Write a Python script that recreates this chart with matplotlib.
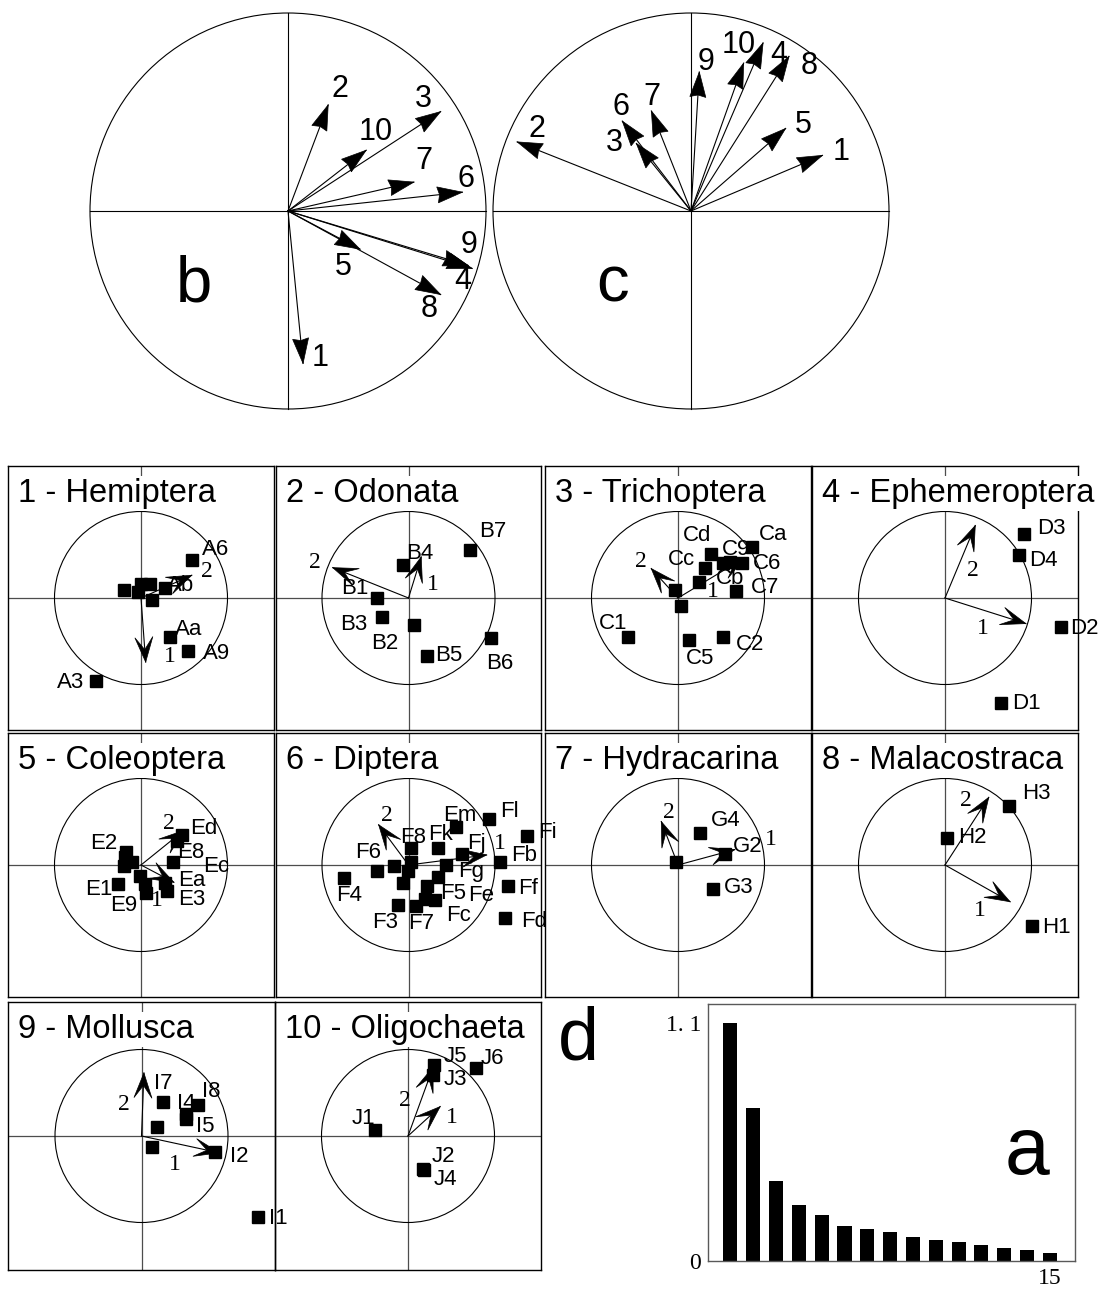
import numpy as np
import matplotlib
matplotlib.use('Agg')
import matplotlib.pyplot as plt
from matplotlib.patches import Circle, Polygon

SANS = 'Liberation Sans'
SERIF = 'Liberation Serif'
W, H = 1101, 1292

# ---- b and c : correlation circles of the 10 groups (unit circle)
groups = ['1', '2', '3', '4', '5', '6', '7', '8', '9', '10']
b_x = [0.076, 0.203, 0.771, 0.91, 0.364, 0.881, 0.636, 0.771, 0.93, 0.395]
b_y = [-0.77, 0.536, 0.502, -0.275, -0.193, 0.095, 0.146, -0.422, -0.29, 0.307]
c_x = [0.664, -0.878, -0.276, 0.364, 0.478, -0.347, -0.2, 0.495, 0.042, 0.266]
c_y = [0.281, 0.349, 0.341, 0.849, 0.417, 0.454, 0.505, 0.781, 0.702, 0.747]

# ---- a : eigenvalues
eig = [1.1, 0.705, 0.37, 0.259, 0.211, 0.161, 0.147, 0.136, 0.112, 0.099,
       0.087, 0.074, 0.062, 0.05, 0.037]

# ---- d : one panel per group (species scores + the two axes)
hem_names = ['A6', 'Ab', 'Aa', 'A9', 'A3', '', '', '', '', '']
hem_x = [0.587, 0.278, 0.336, 0.548, -0.525, -0.193, 0.0, 0.104, -0.031, 0.124]
hem_y = [0.436, 0.12, -0.452, -0.618, -0.954, 0.097, 0.158, 0.158, 0.069, -0.027]
hem_axx, hem_axy = [0.054, 0.587], [-0.741, 0.263]

odo_names = ['B4', 'B7', 'B1', 'B3', 'B2', 'B5', 'B6']
odo_x = [-0.066, 0.714, -0.367, -0.309, 0.062, 0.212, 0.957]
odo_y = [0.378, 0.56, 0.004, -0.22, -0.309, -0.672, -0.459]
odo_axx, odo_axy = [0.147, -0.876], [0.475, 0.351]

tri_names = ['Cd', 'Cc', 'C9', 'Ca', 'C6', 'Cb', 'C7', 'C1', 'C5', 'C2', '', '', '']
tri_x = [0.378, 0.309, 0.521, 0.861, 0.745, 0.598, 0.676, -0.579, 0.124, 0.525, 0.243, -0.031, 0.031]
tri_y = [0.506, 0.347, 0.405, 0.591, 0.405, 0.417, 0.077, -0.452, -0.49, -0.452, 0.185, 0.089, -0.093]
tri_axx, tri_axy = [0.772, -0.309], [0.467, 0.34]

eph_names = ['D3', 'D4', 'D2', 'D1']
eph_x = [0.908, 0.858, 1.338, 0.646]
eph_y = [0.742, 0.492, -0.335, -1.219]
eph_axx, eph_axy = [0.935, 0.35], [-0.296, 0.838]

col_names = ['Ed', 'E8', 'Ec', 'Ea', 'E3', 'E9', 'E1', 'E2', '', '', '', '', '']
col_x = [0.477, 0.419, 0.372, 0.283, 0.295, 0.058, -0.267, -0.174, -0.182, -0.105, -0.2, -0.016, 0.05]
col_y = [0.349, 0.283, 0.031, -0.209, -0.306, -0.318, -0.221, 0.155, 0.089, 0.039, -0.008, -0.124, -0.221]
col_axx, col_axy = [0.38, 0.496], [-0.2, 0.4]

dip_names = ['Fl', 'Fi', 'Em', 'Fk', 'F8', 'Fj', 'Fb', 'Fg', 'F6', 'F4', 'F3', 'F7',
             'Fc', 'F5', 'Fe', 'Ff', 'Fd', '', '', '', '', '']
dip_x = [0.934, 1.368, 0.554, 0.341, 0.031, 0.624, 1.058, 0.43, -0.368, -0.744, -0.124, 0.089,
         0.31, 0.213, 0.341, 1.151, 1.116, -0.163, 0.031, -0.008, -0.066, 0.186]
dip_y = [0.535, 0.341, 0.434, 0.194, 0.194, 0.128, 0.031, 0.0, -0.066, -0.151, -0.461, -0.473,
         -0.403, -0.24, -0.143, -0.24, -0.616, -0.016, 0.031, -0.066, -0.209, -0.395]
dip_axx, dip_axy = [0.903, -0.345], [0.116, 0.465]

hyd_names = ['G4', 'G2', 'G3', '']
hyd_x = [0.251, 0.54, 0.405, -0.027]
hyd_y = [0.371, 0.127, -0.278, 0.031]
hyd_axx, hyd_axy = [0.656, -0.193], [0.178, 0.502]

mal_names = ['H3', 'H2', 'H1']
mal_x = [0.737, 0.023, 1.004]
mal_y = [0.687, 0.309, -0.703]
mal_axx, mal_axy = [0.753, 0.506], [-0.425, 0.782]

mol_names = ['I7', 'I8', 'I4', 'I5', 'I2', 'I1', '', '']
mol_x = [0.243, 0.648, 0.518, 0.514, 0.85, 1.344, 0.178, 0.117]
mol_y = [0.393, 0.36, 0.25, 0.202, -0.182, -0.935, 0.101, -0.126]
mol_axx, mol_axy = [0.899, 0.028], [-0.194, 0.729]

oli_names = ['J5', 'J3', 'J6', 'J1', 'J2', 'J4']
oli_x = [0.3, 0.291, 0.789, -0.377, 0.178, 0.182]
oli_y = [0.826, 0.704, 0.785, 0.069, -0.385, -0.392]
oli_axx, oli_axy = [0.372, 0.291], [0.34, 0.798]

titles = ['1 - Hemiptera', '2 - Odonata', '3 - Trichoptera', '4 - Ephemeroptera',
          '5 - Coleoptera', '6 - Diptera', '7 - Hydracarina', '8 - Malacostraca',
          '9 - Mollusca', '10 - Oligochaeta']

# label placement (pixel offsets from the point)
b_off = {'1': (17, 5), '2': (12, 16), '3': (-17, 13), '4': (-5, -16), '5': (-17, -18),
         '6': (4, 13), '7': (10, 21), '8': (-12, -14), '9': (-3, 23), '10': (9, 18)}
c_off = {'1': (19, 3), '2': (20, 13), '3': (-22, 0), '4': (16, -12), '5': (18, 3),
         '6': (-1, 14), '7': (0, 14), '8': (20, -10), '9': (7, 10), '10': (-5, 18)}
pt_off = {'A6': (24, 11), 'Ab': (16, 2), 'Aa': (19, 8), 'A9': (28, -2), 'A3': (-25, -2),
          'B4': (17, 12), 'B7': (22, 18), 'B1': (-22, 9), 'B3': (-28, -7), 'B2': (-29, -19),
          'B5': (22, 1), 'B6': (8, -26),
          'Cd': (-14, 19), 'Cc': (-23, 8), 'C9': (13, 13), 'Ca': (21, 12), 'C6': (25, -1),
          'Cb': (0, -17), 'C7': (29, 4), 'C1': (-15, 14), 'C5': (11, -18), 'C2': (27, -7),
          'D3': (28, 5), 'D4': (24, -5), 'D2': (24, -2), 'D1': (26, 0),
          'Ed': (21, 6), 'E8': (14, -12), 'Ec': (43, -4), 'Ea': (26, 3), 'E3': (25, -8),
          'E9': (-22, -13), 'E1': (-19, -5), 'E2': (-22, 8),
          'Fl': (20, 7), 'Fi': (21, 3), 'Em': (3, 12), 'Fk': (3, 14), 'F8': (2, 11),
          'Fj': (14, 10), 'Fb': (24, 7), 'Fg': (25, -6), 'F6': (-9, 18), 'F4': (5, -17),
          'F3': (-13, -18), 'F7': (5, -18), 'Fc': (23, -16), 'F5': (26, -8), 'Fe': (43, -18),
          'Ff': (20, -3), 'Fd': (29, -3),
          'G4': (26, 12), 'G2': (23, 8), 'G3': (26, 2),
          'H3': (28, 12), 'H2': (25, 1), 'H1': (25, -2),
          'I7': (1, 19), 'I8': (14, 13), 'I4': (0, 11), 'I5': (19, -8), 'I2': (24, -5), 'I1': (21, -2),
          'J5': (21, 8), 'J3': (22, -4), 'J6': (16, 10), 'J1': (-12, 12), 'J2': (20, 13), 'J4': (22, -10)}
ax_off = [[(24, 6), (15, 4)], [(12, -28), (-18, 5)], [(-32, -34), (-10, 7)], [(-43, -5), (-2, -45)],
          [(-17, -18), (-15, 7)], [(13, 11), (8, 9)], [(36, 10), (8, 9)], [(-30, -9), (-23, -3)],
          [(-44, -12), (-20, -32)], [(12, -11), (-28, -34)]]

fig = plt.figure(figsize=(W / 100, H / 100), dpi=100)


def px_axes(x0, y0, w, h):
    return fig.add_axes([x0 / W, 1 - (y0 + h) / H, w / W, h / H])


def head(ax, x, y, L, hw, notch):
    d = np.hypot(x, y)
    ux, uy = x / d, y / d
    nx, ny = -uy, ux
    pts = [(x, y), (x - L * ux + hw * nx, y - L * uy + hw * ny),
           (x - notch * L * ux, y - notch * L * uy),
           (x - L * ux - hw * nx, y - L * uy - hw * ny)]
    ax.add_patch(Polygon(pts, closed=True, fc='k', ec='k', lw=0.5, zorder=4))


# ---- top circles
R_top = 198
for cx, xs, ys, offs, letter, lx in [(288, b_x, b_y, b_off, 'b', -0.475),
                                     (691, c_x, c_y, c_off, 'c', -0.395)]:
    ax = px_axes(cx - 202, 211 - 202, 404, 404)
    lim = 202 / R_top
    ax.set_xlim(-lim, lim)
    ax.set_ylim(-lim, lim)
    ax.axis('off')
    ax.add_patch(Circle((0, 0), 1, fill=False, ec='k', lw=0.8))
    ax.plot([-1, 1], [0, 0], color='k', lw=0.8)
    ax.plot([0, 0], [-1, 1], color='k', lw=0.8)
    for g, x, y in zip(groups, xs, ys):
        ax.plot([0, x], [0, y], color='k', lw=0.8)
        head(ax, x, y, 25 / R_top, 8 / R_top, 0.92)
        ax.annotate(g, (x, y), xytext=offs[g], textcoords='offset pixels',
                    ha='center', va='center', fontsize=22, family=SANS)
    ax.text(lx, -0.37, letter, ha='center', va='center', fontsize=47, family=SANS)

# ---- panel grid
panels = [(hem_names, hem_x, hem_y, hem_axx, hem_axy), (odo_names, odo_x, odo_y, odo_axx, odo_axy),
          (tri_names, tri_x, tri_y, tri_axx, tri_axy), (eph_names, eph_x, eph_y, eph_axx, eph_axy),
          (col_names, col_x, col_y, col_axx, col_axy), (dip_names, dip_x, dip_y, dip_axx, dip_axy),
          (hyd_names, hyd_x, hyd_y, hyd_axx, hyd_axy), (mal_names, mal_x, mal_y, mal_axx, mal_axy),
          (mol_names, mol_x, mol_y, mol_axx, mol_axy), (oli_names, oli_x, oli_y, oli_axx, oli_axy)]
boxes = [(8, 466, 266, 264), (276, 466, 265, 264), (545, 466, 266, 264), (812, 466, 266, 264),
         (8, 733, 266, 264), (276, 733, 265, 264), (545, 733, 266, 264), (812, 733, 266, 264),
         (8, 1002, 267, 268), (275, 1002, 266, 268)]
R = 86.5

for i, ((names, xs, ys, axx, axy), (x0, y0, w, h)) in enumerate(zip(panels, boxes)):
    ax = px_axes(x0, y0, w, h)
    ax.set_facecolor('none')
    ax.set_xlim(-w / 2 / R, w / 2 / R)
    ax.set_ylim(-h / 2 / R, h / 2 / R)
    ax.set_xticks([])
    ax.set_yticks([])
    for s in ax.spines.values():
        s.set_linewidth(1.0)
        s.set_zorder(1)
    ax.axhline(0, color='0.3', lw=0.9, zorder=1)
    ax.axvline(0, color='0.3', lw=0.9, zorder=1)
    ax.add_patch(Circle((0, 0), 1, fill=False, ec='k', lw=0.8, zorder=1))
    ax.plot(xs, ys, 's', ms=8.5, color='k', zorder=3, clip_on=False)
    for n, x, y in zip(names, xs, ys):
        if n:
            ax.annotate(n, (x, y), xytext=pt_off[n], textcoords='offset pixels',
                        ha='center', va='center', fontsize=16, family=SANS, zorder=6,
                        annotation_clip=False)
    for k, (x, y) in enumerate(zip(axx, axy)):
        ax.plot([0, x], [0, y], color='k', lw=0.8, zorder=4)
        head(ax, x, y, 25 / R, 9 / R, 0.5)
        ax.annotate(str(k + 1), (x, y), xytext=ax_off[i][k], textcoords='offset pixels',
                    ha='center', va='center', fontsize=17, family=SERIF, zorder=6)
    ax.text(10 / w, 1 - 36 / h, titles[i], transform=ax.transAxes, ha='left', va='baseline',
            fontsize=23.5, family=SANS, zorder=7,
            bbox=dict(fc='white', ec='none', pad=1.5))

# ---- a : eigenvalue bar chart
ax = px_axes(708, 1004, 367, 257)
ranks = np.arange(1, len(eig) + 1)
ax.bar(ranks, eig, width=0.615, color='k')
ax.set_xlim(0.02, 16.1)
ax.set_ylim(0, 1.188)
ax.set_yticks([0, 1.1])
ax.set_yticklabels(['0', '1. 1'], family=SERIF, fontsize=17)
ax.set_xticks([15])
ax.set_xticklabels(['15'], family=SERIF, fontsize=17)
ax.tick_params(length=0, pad=5)
for s in ax.spines.values():
    s.set_color('0.35')
    s.set_linewidth(1.0)
ax.text(0.87, 0.42, 'a', transform=ax.transAxes, ha='center', va='center',
        fontsize=58, family=SANS)

fig.text(578 / W, 1 - 1040 / H, 'd', ha='center', va='center', fontsize=53, family=SANS)

fig.savefig('out.png', dpi=100)
